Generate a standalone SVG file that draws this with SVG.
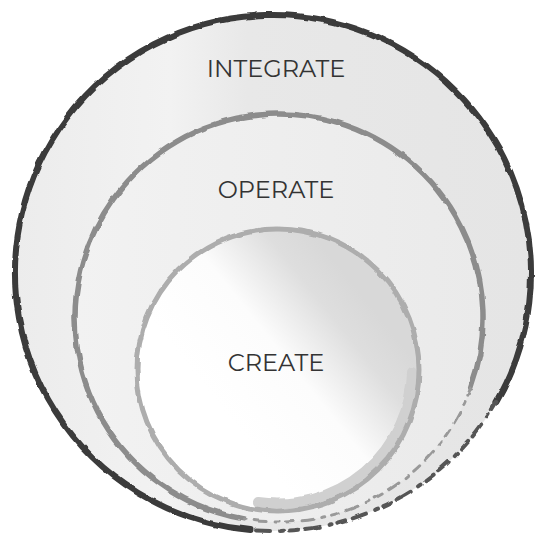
<svg xmlns="http://www.w3.org/2000/svg" width="539" height="537" viewBox="0 0 539 537">
  <style>
    .lbl { font-family: "Montserrat", "Liberation Sans", "DejaVu Sans", sans-serif; font-size: 24px; fill: #333333; text-anchor: middle; }
    .ring { fill: none; stroke-linecap: round; }
  </style>
  <defs>
    <filter id="rough" x="-5%" y="-5%" width="110%" height="110%">
      <feTurbulence type="fractalNoise" baseFrequency="0.06" numOctaves="2" seed="3" result="n"/>
      <feDisplacementMap in="SourceGraphic" in2="n" scale="4" xChannelSelector="R" yChannelSelector="G"/>
    </filter>
    <linearGradient id="gOuter" x1="0" y1="0" x2="1" y2="0">
      <stop offset="0" stop-color="#ececec"/>
      <stop offset="0.3" stop-color="#f2f2f2"/>
      <stop offset="0.45" stop-color="#e8e8e8"/>
      <stop offset="1" stop-color="#e5e5e5"/>
    </linearGradient>
    <linearGradient id="gMid" x1="0" y1="0" x2="1" y2="0">
      <stop offset="0" stop-color="#f2f2f2"/>
      <stop offset="1" stop-color="#eaeaea"/>
    </linearGradient>
    <linearGradient id="gInner" x1="0.35" y1="0.7" x2="0.85" y2="0.3">
      <stop offset="0" stop-color="#ffffff"/>
      <stop offset="0.45" stop-color="#fcfcfc"/>
      <stop offset="0.8" stop-color="#dedede"/>
      <stop offset="1" stop-color="#d8d8d8"/>
    </linearGradient>
  </defs>
  <rect width="539" height="537" fill="#ffffff"/>

  <g id="integrate">
    <circle cx="273" cy="273" r="258" fill="url(#gOuter)"/>
    <g filter="url(#rough)">
      <path class="ring" d="M250.5,530 A258,258 0 1 1 496.4,402" stroke="#3a3a3a" stroke-width="6"/>
      <path class="ring" d="M496.4,402 A258,258 0 0 1 250.5,530" stroke="#555555" stroke-width="4" stroke-dasharray="9 6 3 10 14 7"/>
    </g>
    <text class="lbl" x="276" y="77">INTEGRATE</text>
  </g>

  <g id="operate">
    <circle cx="279" cy="318" r="204" fill="url(#gMid)"/>
    <g filter="url(#rough)">
      <path class="ring" d="M243.6,518.9 A204,204 0 1 1 470.7,387.8" stroke="#8c8c8c" stroke-width="5.5"/>
      <path class="ring" d="M470.7,387.8 A204,204 0 0 1 243.6,518.9" stroke="#999999" stroke-width="3" stroke-dasharray="8 7 3 9 12 8"/>
    </g>
    <text class="lbl" x="276" y="198">OPERATE</text>
  </g>

  <g id="create">
    <circle cx="278" cy="370" r="141" fill="url(#gInner)"/>
    <g filter="url(#rough)">
      <path class="ring" d="M412,372 A134,134 0 0 1 258,502" stroke="#d0d0d0" stroke-width="10"/>
      <circle class="ring" cx="278" cy="370" r="141" stroke="#adadad" stroke-width="5"/>
    </g>
    <text class="lbl" x="276" y="371">CREATE</text>
  </g>
</svg>
